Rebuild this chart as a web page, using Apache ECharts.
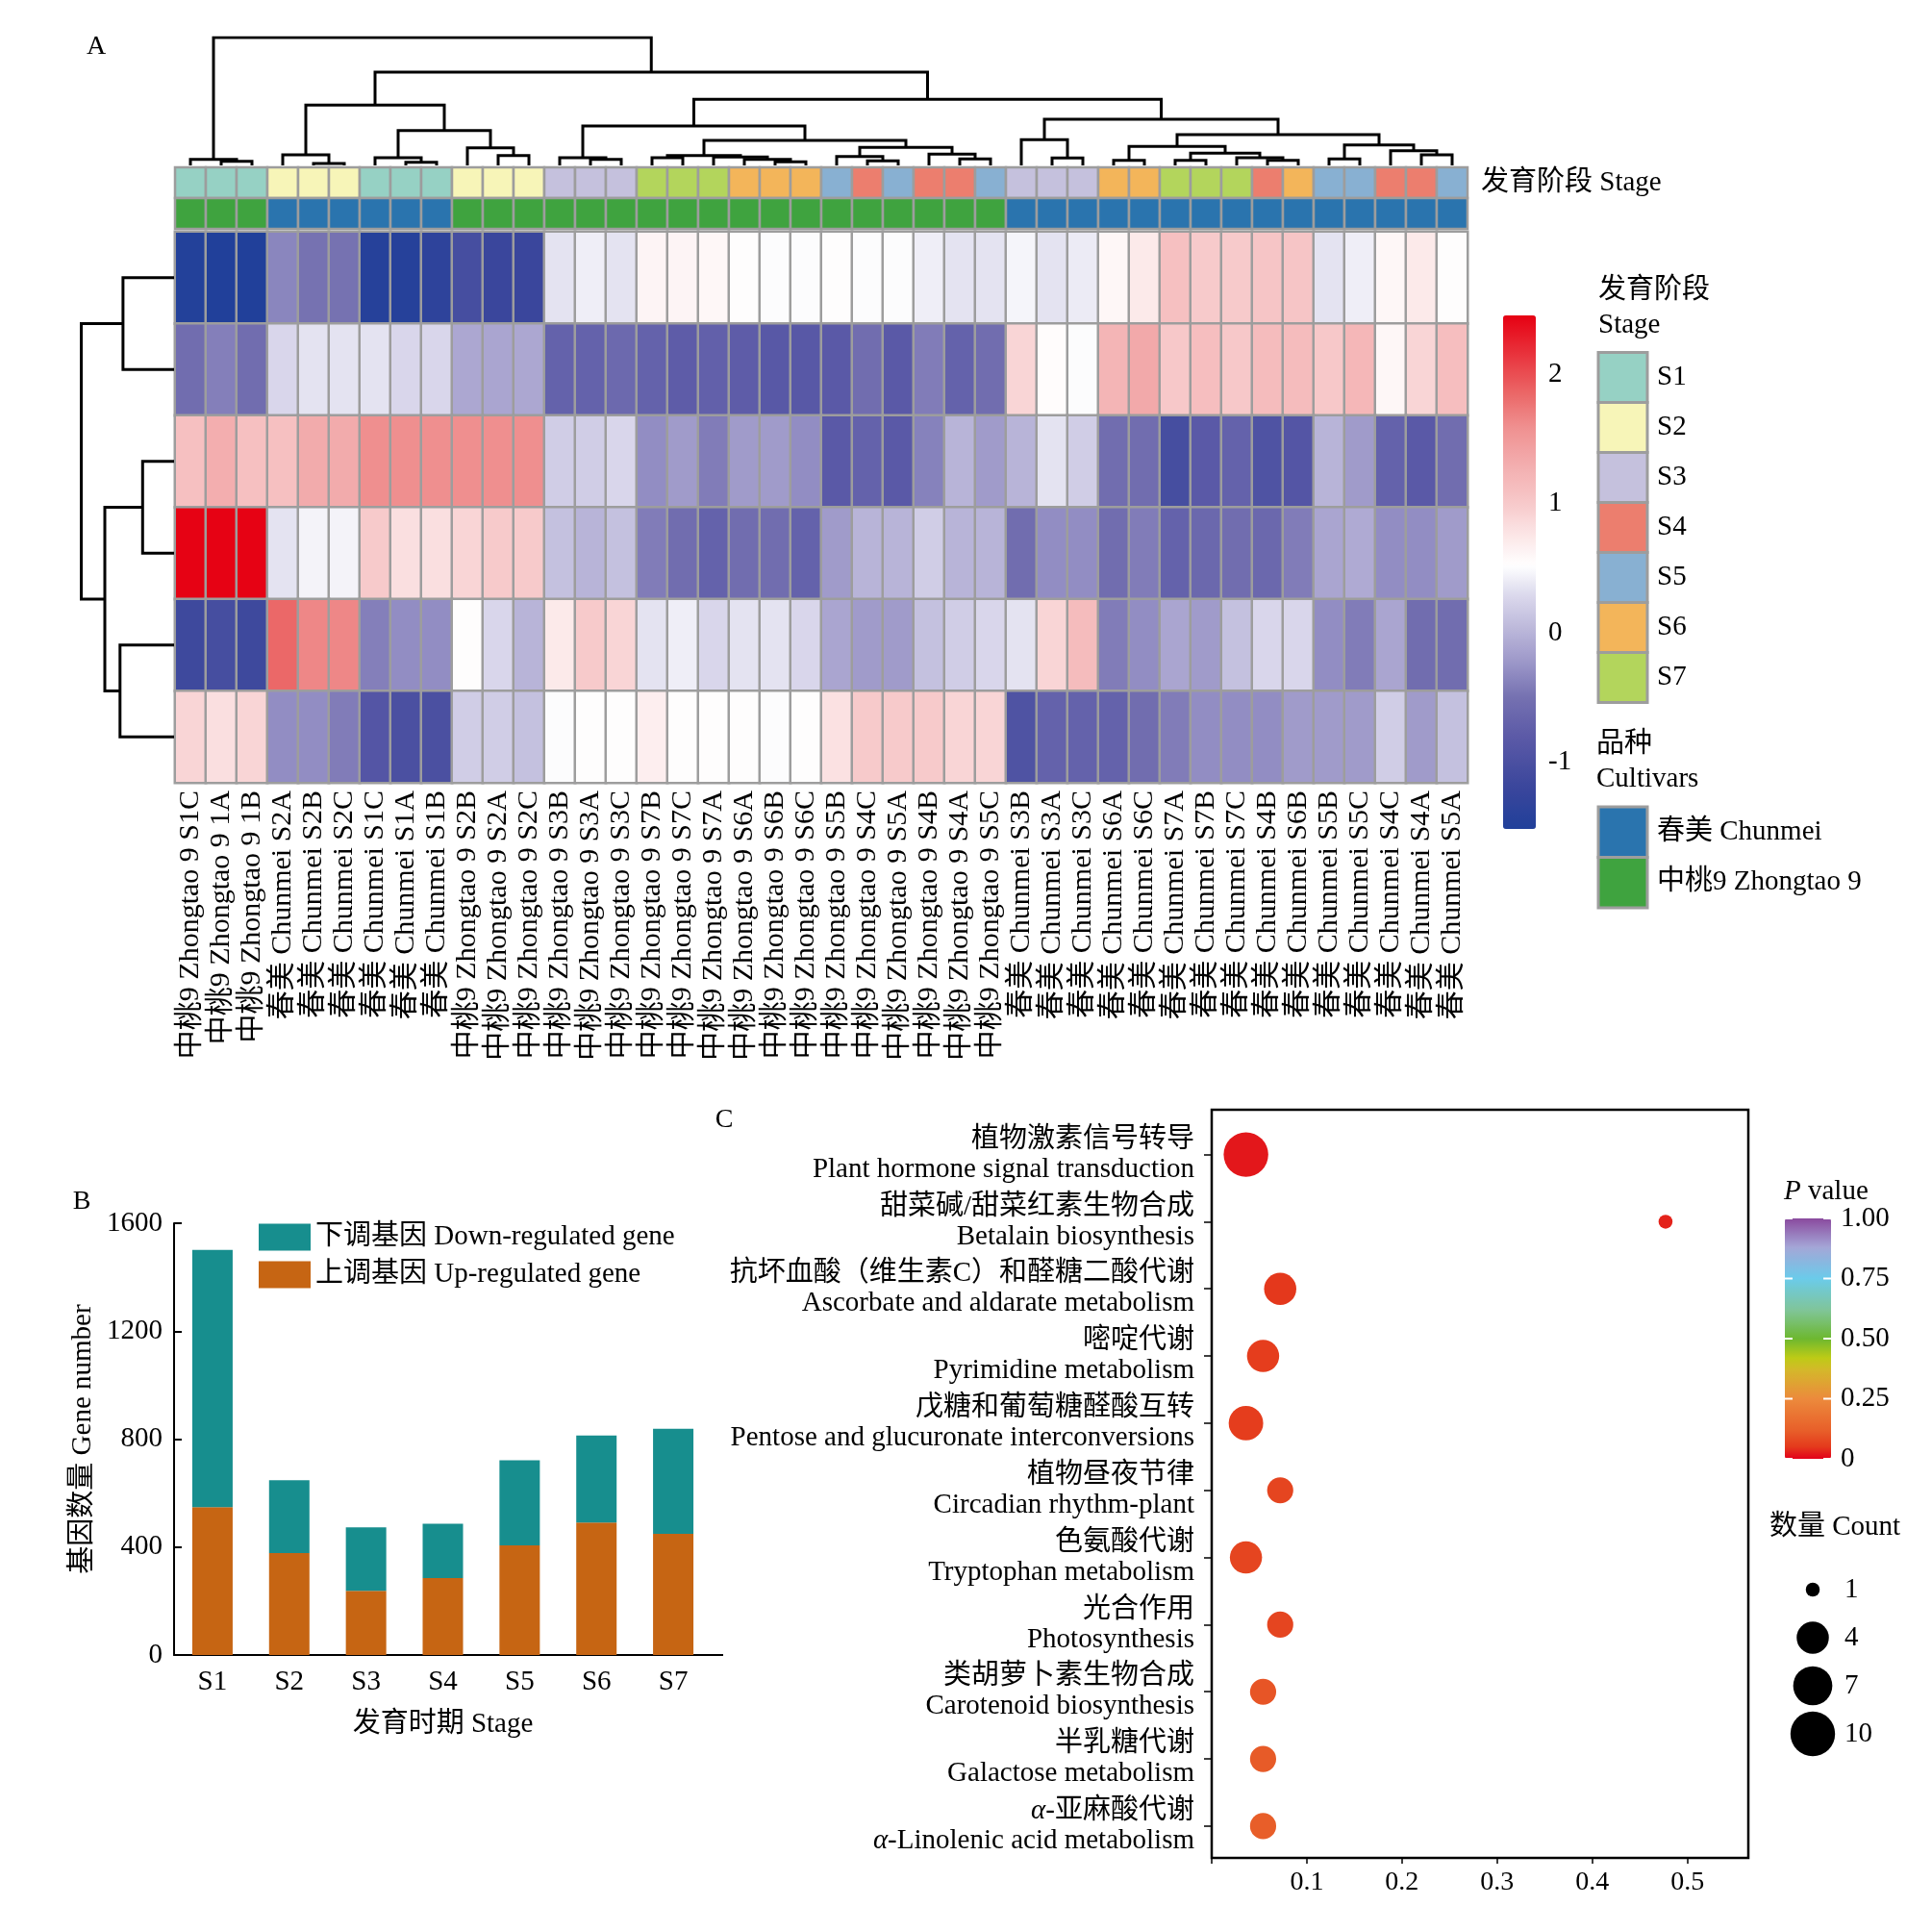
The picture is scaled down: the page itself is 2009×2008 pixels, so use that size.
<!DOCTYPE html>
<html><head><meta charset="utf-8">
<script src="https://cdn.jsdelivr.net/npm/echarts@6/dist/echarts.min.js"></script>
<style>html,body{margin:0;padding:0;background:#fff}#c{width:2009px;height:2008px}</style>
</head><body><div id="c"></div>
<script>
const FONT = "'Liberation Serif','Noto Sans CJK SC',serif";

// ================= Panel A data =================
const colLabels = ['中桃9 Zhongtao 9 S1C','中桃9 Zhongtao 9 1A','中桃9 Zhongtao 9 1B','春美 Chunmei S2A','春美 Chunmei S2B','春美 Chunmei S2C','春美 Chunmei S1C','春美 Chunmei S1A','春美 Chunmei S1B','中桃9 Zhongtao 9 S2B','中桃9 Zhongtao 9 S2A','中桃9 Zhongtao 9 S2C','中桃9 Zhongtao 9 S3B','中桃9 Zhongtao 9 S3A','中桃9 Zhongtao 9 S3C','中桃9 Zhongtao 9 S7B','中桃9 Zhongtao 9 S7C','中桃9 Zhongtao 9 S7A','中桃9 Zhongtao 9 S6A','中桃9 Zhongtao 9 S6B','中桃9 Zhongtao 9 S6C','中桃9 Zhongtao 9 S5B','中桃9 Zhongtao 9 S4C','中桃9 Zhongtao 9 S5A','中桃9 Zhongtao 9 S4B','中桃9 Zhongtao 9 S4A','中桃9 Zhongtao 9 S5C','春美 Chunmei S3B','春美 Chunmei S3A','春美 Chunmei S3C','春美 Chunmei S6A','春美 Chunmei S6C','春美 Chunmei S7A','春美 Chunmei S7B','春美 Chunmei S7C','春美 Chunmei S4B','春美 Chunmei S6B','春美 Chunmei S5B','春美 Chunmei S5C','春美 Chunmei S4C','春美 Chunmei S4A','春美 Chunmei S5A'];
const colStage = [1,1,1,2,2,2,1,1,1,2,2,2,3,3,3,7,7,7,6,6,6,5,4,5,4,4,5,3,3,3,6,6,7,7,7,4,6,5,5,4,4,5];
const colCultivar = [1,1,1,0,0,0,0,0,0,1,1,1,1,1,1,1,1,1,1,1,1,1,1,1,1,1,1,0,0,0,0,0,0,0,0,0,0,0,0,0,0,0];
const stageNames = ['S1','S2','S3','S4','S5','S6','S7'];
const cultivarNames = ['春美 Chunmei','中桃9 Zhongtao 9'];
const annotRowNames = ['发育阶段 Stage','品种 Cultivars'];

const heatRow0 = [-1.5,-1.58,-1.55,-0.35,-0.5,-0.5,-1.45,-1.45,-1.35,-1.05,-1.2,-1.2,0.35,0.42,0.35,0.62,0.62,0.6,0.52,0.5,0.5,0.52,0.5,0.5,0.42,0.35,0.35,0.46,0.35,0.4,0.6,0.72,1.1,1.0,1.0,1.05,1.05,0.35,0.42,0.6,0.72,0.52];
const heatRow1 = [-0.55,-0.4,-0.55,0.27,0.35,0.35,0.35,0.27,0.27,-0.1,-0.12,-0.1,-0.7,-0.7,-0.6,-0.7,-0.78,-0.72,-0.78,-0.85,-0.85,-0.82,-0.55,-0.82,-0.42,-0.7,-0.55,0.9,0.55,0.5,1.22,1.35,1.02,1.12,1.02,1.15,1.15,1.02,1.2,0.6,0.9,1.12];
const heatRow2 = [1.1,1.3,1.1,1.1,1.33,1.33,1.6,1.6,1.6,1.6,1.6,1.6,0.2,0.2,0.27,-0.3,-0.2,-0.42,-0.2,-0.2,-0.3,-0.82,-0.7,-0.82,-0.38,0.0,-0.2,0.0,0.35,0.2,-0.55,-0.55,-1.05,-0.82,-0.7,-0.95,-0.9,0.0,-0.2,-0.7,-0.82,-0.55];
const heatRow3 = [2.45,2.45,2.45,0.35,0.45,0.45,1.0,0.82,0.82,0.9,1.0,1.0,0.1,0.0,0.1,-0.42,-0.55,-0.7,-0.55,-0.55,-0.7,-0.2,0.0,0.0,0.2,0.0,0.0,-0.55,-0.3,-0.3,-0.55,-0.42,-0.7,-0.62,-0.55,-0.62,-0.42,-0.12,-0.08,-0.3,-0.3,-0.2];
const heatRow4 = [-1.15,-1.05,-1.15,1.85,1.65,1.65,-0.4,-0.3,-0.3,0.52,0.27,0.0,0.72,1.0,0.9,0.35,0.42,0.27,0.35,0.35,0.27,-0.12,-0.2,-0.2,0.1,0.2,0.27,0.35,0.9,1.15,-0.42,-0.3,-0.12,-0.2,0.1,0.27,0.27,-0.3,-0.42,-0.12,-0.55,-0.55];
const heatRow5 = [0.9,0.82,0.9,-0.3,-0.3,-0.42,-0.9,-1.0,-1.0,0.2,0.2,0.1,0.5,0.52,0.52,0.68,0.52,0.52,0.52,0.5,0.52,0.8,1.0,1.0,1.0,0.9,0.9,-0.95,-0.7,-0.7,-0.7,-0.55,-0.42,-0.3,-0.3,-0.3,-0.2,-0.2,-0.2,0.2,-0.2,0.1];
const heatRows = [heatRow0, heatRow1, heatRow2, heatRow3, heatRow4, heatRow5];
const heatMin = -1.52, heatMax = 2.46;
const heatTicks = [2, 1, 0, -1];

// dendrograms: leaf = column/row index, node = [left, right, height]
const colTree = [
  [0, [1, 2, 4.3], 6.3],
  [
    [[3, [4, 5, 2], 11], [[6, [7, 8, 3.3], 8], [9, [10, 11, 10.3], 18.3], 36.3], 62.7],
    [
      [[12, [13, 14, 6.3], 8],
       [[[15, 16, 8], [17, [18, [19, 20, 3.7], 6.3], 8.7], 10.3],
        [[21, [22, 23, 4.7], 9.3], [24, [25, 26, 6.7], 11.7], 18.7], 26], 41],
      [[27, [28, 29, 7.7], 26.7],
       [[[30, 31, 5.3], [[32, 33, 5.3], [34, [35, 36, 5.3], 8], 12.7], 19.7],
        [[37, 38, 6.7], [39, [40, 41, 11], 15.3], 21.3], 32], 48],
      68.7],
    97],
  133];
const rowTree = [[0, 1, 53.1], [[2, 3, 32.7], [4, 5, 56.2], 72], 96.5];

// ================= Panel B data =================
const stages = ['S1','S2','S3','S4','S5','S6','S7'];
const upGenes = [548, 378, 238, 285, 406, 491, 449];
const downGenes = [953, 270, 235, 201, 316, 322, 389];
const nameDown = '下调基因 Down-regulated gene';
const nameUp = '上调基因 Up-regulated gene';

// ================= Panel C data =================
const pathCN = ['植物激素信号转导','甜菜碱/甜菜红素生物合成','抗坏血酸（维生素C）和醛糖二酸代谢','嘧啶代谢','戊糖和葡萄糖醛酸互转','植物昼夜节律','色氨酸代谢','光合作用','类胡萝卜素生物合成','半乳糖代谢','α-亚麻酸代谢'];
const pathEN = ['Plant hormone signal transduction','Betalain biosynthesis','Ascorbate and aldarate metabolism','Pyrimidine metabolism','Pentose and glucuronate interconversions','Circadian rhythm-plant','Tryptophan metabolism','Photosynthesis','Carotenoid biosynthesis','Galactose metabolism','α-Linolenic acid metabolism'];
const richFactor = [0.036, 0.477, 0.072, 0.054, 0.036, 0.072, 0.036, 0.072, 0.054, 0.054, 0.054];
const pValue = [0.02, 0.03, 0.048, 0.055, 0.055, 0.07, 0.07, 0.07, 0.1, 0.11, 0.115];
const geneCount = [10, 1, 4, 4, 5, 3, 4, 3, 3, 3, 3];
const countLegend = [1, 4, 7, 10];
const pTicks = [1.00, 0.75, 0.50, 0.25, 0];
const pTickLabels = ['1.00', '0.75', '0.50', '0.25', '0'];

// ================= styles / helpers =================
const stageColors = ['#96D1C4','#F7F5B8','#C5C1DD','#EC7E6E','#88B0D2','#F3B55A','#B3D55C'];
const cultivarColors = ['#2A74AE','#3FA33F'];
const heatStops = [[-1.52,'#21409A'],[-1.2,'#3A469C'],[-0.8,'#5C5AA7'],[-0.5,'#7571B1'],[-0.2,'#A09BCB'],[0,'#B8B4D8'],[0.3,'#DCDAED'],[0.52,'#FFFFFF'],[0.8,'#FBE1E2'],[1.0,'#F7C9CA'],[1.3,'#F3AEAF'],[1.6,'#EF8F8F'],[1.85,'#EB6868'],[2.46,'#E60012']];
const pStops = [[0,'#E3001A'],[0.05,'#E43A1C'],[0.12,'#E8602A'],[0.25,'#EC8A3C'],[0.37,'#D4B82A'],[0.42,'#BDCB16'],[0.5,'#6DB830'],[0.62,'#80C59A'],[0.75,'#6BCBEA'],[0.88,'#A4A6D7'],[1.0,'#8A4A9E']];
const sizeStops = [[1,14.5],[4,33.5],[7,40.7],[10,46.4]];
const GRAY = '#9d9d9d';
const FS = 29;

function h2r(h){return [parseInt(h.slice(1,3),16),parseInt(h.slice(3,5),16),parseInt(h.slice(5,7),16)];}
function ramp(stops, v){
  if (v <= stops[0][0]) return stops[0][1];
  for (let i=1;i<stops.length;i++){
    if (v <= stops[i][0]){
      const t=(v-stops[i-1][0])/(stops[i][0]-stops[i-1][0]);
      const a=h2r(stops[i-1][1]), b=h2r(stops[i][1]);
      return 'rgb('+a.map((x,k)=>Math.round(x+(b[k]-x)*t)).join(',')+')';
    }
  }
  return stops[stops.length-1][1];
}
function sample(stops,min,max,n){const r=[];for(let i=0;i<n;i++)r.push(ramp(stops,min+(max-min)*i/(n-1)));return r;}
function interp(stops,v){
  for (let i=1;i<stops.length;i++){ if (v<=stops[i][0]){const t=(v-stops[i-1][0])/(stops[i][0]-stops[i-1][0]);return stops[i-1][1]+(stops[i][1]-stops[i-1][1])*t;} }
  return stops[stops.length-1][1];
}
const sizeOf = c => interp(sizeStops, c);

function dendro(tree, horizontal){
  const segs=[];
  function walk(n){
    if (typeof n === 'number') return {p:n,h:0};
    const a=walk(n[0]), b=walk(n[1]), h=n[2];
    const pts = [[a.p,a.h],[a.p,h],[b.p,h],[b.p,b.h]];
    segs.push({coords: horizontal ? pts.map(q=>[q[1],q[0]]) : pts});
    return {p:(a.p+b.p)/2,h:h};
  }
  walk(tree);
  return segs;
}

// ================= layout =================
const HM = {left:182, top:241, width:1344, height:573};
const AN = {left:182, top:174, width:1344, height:64};
const CD = {left:182, top:39, width:1344, height:133};
const RD = {left:84.5, top:241, width:96.5, height:573};
const GB = {left:181, top:1272, width:559, height:449};
const GC = {left:1260, top:1154, width:558, height:778};
const GL = {left:1860, top:1628, width:50, height:200};
const HCB = {left:1563, top:328, width:34, height:534};
const PCB = {left:1856, top:1267, width:48, height:250};
const pathIdx = pathEN.map((_,i)=>i);

const heatData=[];
heatRows.forEach((row,r)=>row.forEach((v,c)=>heatData.push([c,r,v])));
const annotData=[];
colStage.forEach((s,c)=>{annotData.push([c,0,s-1]);annotData.push([c,1,7+colCultivar[c]]);});
const annotPalette = stageColors.concat(cultivarColors);

const txt = (o)=>Object.assign({fontFamily:FONT, fill:'#000'}, o);
const graphics = [];
function T(x,y,text,size,align,extra){graphics.push({type:'text',x:x,y:y,silent:true,style:txt(Object.assign({text:text,fontSize:size,align:align||'left',verticalAlign:'middle'},extra||{}))});}

T(100,49,'A',28,'center');
T(85,1250,'B',28,'center');
T(753,1165,'C',28,'center');
heatTicks.forEach(v=>{const y=HCB.top+(heatMax-v)/(heatMax-heatMin)*HCB.height;T(1610,y,String(v),FS,'left');});
T(1662,302,'发育阶段',29,'left');
T(1662,338,'Stage',29,'left');
stageNames.forEach((s,i)=>{
  graphics.push({type:'rect',shape:{x:1662,y:366.5+i*52,width:51,height:52},style:{fill:stageColors[i],stroke:GRAY,lineWidth:3}});
  T(1723,366.5+i*52+26,s,29,'left');
});
T(1660,774,'品种',29,'left');
T(1660,810,'Cultivars',29,'left');
cultivarNames.forEach((s,i)=>{
  graphics.push({type:'rect',shape:{x:1662,y:839+i*52.5,width:51,height:52.5},style:{fill:cultivarColors[i],stroke:GRAY,lineWidth:3}});
  T(1723,839+i*52.5+26,s,29,'left');
});
graphics.push({type:'text',x:1855,y:1239,silent:true,style:txt({text:'{i|P} value',fontSize:FS,align:'left',verticalAlign:'middle',rich:{i:{fontStyle:'italic',fontSize:FS,fontFamily:FONT}}})});
pTicks.forEach((v,i)=>{
  const y=PCB.top+(1-v)*PCB.height;
  T(1914,y,pTickLabels[i],FS,'left');
  graphics.push({type:'line',z:100,shape:{x1:PCB.left,y1:y,x2:PCB.left+8,y2:y},style:{stroke:'#fff',lineWidth:2}});
  graphics.push({type:'line',z:100,shape:{x1:PCB.left+PCB.width-8,y1:y,x2:PCB.left+PCB.width,y2:y},style:{stroke:'#fff',lineWidth:2}});
});
T(1840,1588,'数量 Count',FS,'left');
graphics.push({type:'line',shape:{x1:GB.left+GB.width,y1:GB.top+GB.height,x2:752,y2:GB.top+GB.height},style:{stroke:'#000',lineWidth:2}});

const hidden = {show:false};
const noAxis = {axisLine:hidden,axisTick:hidden,axisLabel:hidden,splitLine:hidden};
const gridBase = {outerBoundsMode:'none', containLabel:false};

function pathLabel(v){
  const i = Math.round(+v);
  if (i<0 || i>=pathCN.length) return '';
  const fmt=(s,a,b)=> s.charAt(0)==='α' ? '{'+a+'|α}{'+b+'|'+s.slice(1)+'}' : '{'+b+'|'+s+'}';
  return fmt(pathCN[i],'ci','cn')+'\n'+fmt(pathEN[i],'ei','en');
}
const rs = {fontSize:FS,fontFamily:FONT,color:'#000',lineHeight:31};
const lab = {fontSize:FS,fontFamily:FONT,color:'#000'};

const option = {
  animation:false,
  backgroundColor:'#fff',
  textStyle:{fontFamily:FONT,color:'#000'},
  grid:[
    Object.assign({},gridBase,CD),
    Object.assign({},gridBase,AN),
    Object.assign({},gridBase,HM),
    Object.assign({},gridBase,RD),
    Object.assign({},gridBase,GB),
    Object.assign({},gridBase,GC,{show:true,borderColor:'#000',borderWidth:2.5,backgroundColor:'transparent'}),
    Object.assign({},gridBase,GL)
  ],
  xAxis:[
    Object.assign({gridIndex:0,type:'value',min:-0.5,max:41.5},noAxis),
    Object.assign({gridIndex:1,type:'category',data:colLabels},noAxis),
    {gridIndex:2,type:'category',data:colLabels,axisLine:hidden,axisTick:hidden,splitLine:hidden,
      axisLabel:{interval:0,rotate:90,margin:8,fontSize:30,fontFamily:FONT,color:'#000'}},
    Object.assign({gridIndex:3,type:'value',min:0,max:96.5,inverse:true},noAxis),
    {gridIndex:4,type:'category',data:stages,axisLine:{lineStyle:{color:'#000',width:2}},axisTick:hidden,splitLine:hidden,
      axisLabel:Object.assign({margin:14},lab),
      name:'发育时期 Stage',nameLocation:'middle',nameGap:58,nameTextStyle:lab},
    {gridIndex:5,type:'value',min:0,max:0.564,interval:0.1,splitLine:hidden,position:'bottom',
      axisLine:{onZero:false,lineStyle:{color:'#000',width:2}},axisTick:{show:true,length:6,lineStyle:{color:'#000',width:1.5}},
      axisLabel:Object.assign({margin:12,showMaxLabel:false,formatter:v=> (v<1e-9||v>0.55?'':v.toFixed(1))},lab,{fontSize:28})},
    Object.assign({gridIndex:6,type:'value',min:0,max:2},noAxis)
  ],
  yAxis:[
    Object.assign({gridIndex:0,type:'value',min:0,max:133},noAxis),
    {gridIndex:1,type:'category',data:annotRowNames,inverse:true,position:'right',axisLine:hidden,axisTick:hidden,splitLine:hidden,
      axisLabel:Object.assign({margin:14},lab)},
    Object.assign({gridIndex:2,type:'category',data:['1','2','3','4','5','6'],inverse:true},noAxis),
    Object.assign({gridIndex:3,type:'value',min:-0.5,max:5.5,inverse:true},noAxis),
    {gridIndex:4,type:'value',min:0,max:1600,interval:400,splitLine:hidden,
      axisLine:{show:true,lineStyle:{color:'#000',width:2}},axisTick:{show:true,inside:true,length:8,lineStyle:{color:'#000',width:2}},
      axisLabel:Object.assign({margin:12,formatter:v=>String(v)},lab),
      name:'基因数量 Gene number',nameLocation:'middle',nameRotate:90,nameGap:80,nameTextStyle:lab},
    {gridIndex:5,type:'value',min:-0.667,max:10.474,inverse:true,splitLine:hidden,position:'left',
      axisLine:{show:true,onZero:false,lineStyle:{color:'#000',width:2}},
      axisTick:{show:true,length:8,customValues:pathIdx,lineStyle:{color:'#000',width:1.5}},
      axisLabel:{margin:18,customValues:pathIdx,formatter:pathLabel,align:'right',
        rich:{cn:rs,en:rs,ci:Object.assign({},rs,{fontStyle:'italic'}),ei:Object.assign({},rs,{fontStyle:'italic'})}}},
    {gridIndex:6,type:'category',data:countLegend.map(String),inverse:true,position:'right',axisLine:hidden,axisTick:hidden,splitLine:hidden,
      axisLabel:Object.assign({margin:8},lab)}
  ],
  visualMap:[
    {type:'continuous',seriesIndex:2,min:heatMin,max:heatMax,calculable:false,hoverLink:false,orient:'vertical',
      left:HCB.left,top:HCB.top,itemWidth:HCB.width,itemHeight:HCB.height,padding:0,showLabel:false,
      inRange:{color:sample(heatStops,heatMin,heatMax,101)},textStyle:{fontSize:0}},
    {type:'continuous',seriesIndex:6,dimension:2,min:0,max:1,calculable:false,hoverLink:false,orient:'vertical',
      left:PCB.left,top:PCB.top,itemWidth:PCB.width,itemHeight:PCB.height,padding:0,showLabel:false,
      inRange:{color:sample(pStops,0,1,101)},textStyle:{fontSize:0}}
  ],
  legend:{data:[nameDown,nameUp],orient:'vertical',left:269,top:1272,itemWidth:54,itemHeight:28,itemGap:10,icon:'rect',padding:0,
    textStyle:lab,selectedMode:false},
  graphic:graphics,
  series:[
    {type:'lines',coordinateSystem:'cartesian2d',xAxisIndex:0,yAxisIndex:0,polyline:true,silent:true,
      lineStyle:{color:'#000',width:3,opacity:1},data:dendro(colTree,false)},
    {type:'custom',xAxisIndex:1,yAxisIndex:1,silent:true,data:annotData,
      renderItem:(params,api)=>{
        const c=api.coord([api.value(0),api.value(1)]), s=api.size([1,1]);
        return {type:'rect',shape:{x:c[0]-s[0]/2,y:c[1]-s[1]/2,width:s[0],height:s[1]},
          style:{fill:annotPalette[api.value(2)],stroke:GRAY,lineWidth:2.5}};
      }},
    {type:'heatmap',xAxisIndex:2,yAxisIndex:2,data:heatData,silent:true,progressive:0,
      itemStyle:{borderColor:GRAY,borderWidth:2.5},emphasis:{disabled:true}},
    {type:'lines',coordinateSystem:'cartesian2d',xAxisIndex:3,yAxisIndex:3,polyline:true,silent:true,
      lineStyle:{color:'#000',width:3,opacity:1},data:dendro(rowTree,true)},
    {type:'bar',name:nameUp,xAxisIndex:4,yAxisIndex:4,stack:'g',barWidth:42,data:upGenes,itemStyle:{color:'#C66513'},silent:true},
    {type:'bar',name:nameDown,xAxisIndex:4,yAxisIndex:4,stack:'g',barWidth:42,data:downGenes,itemStyle:{color:'#178E8E'},silent:true},
    {type:'scatter',xAxisIndex:5,yAxisIndex:5,silent:true,
      data:richFactor.map((x,i)=>[x,pathIdx[i],pValue[i],geneCount[i]]),
      symbolSize:v=>sizeOf(v[3]),itemStyle:{opacity:1}},
    {type:'scatter',xAxisIndex:6,yAxisIndex:6,silent:true,
      data:countLegend.map((c,i)=>[1,i,c]),symbolSize:v=>sizeOf(v[2]),itemStyle:{color:'#000',opacity:1}}
  ]
};
const chart = echarts.init(document.getElementById('c'),null,{renderer:'canvas'});
chart.setOption(option);
</script></body></html>
